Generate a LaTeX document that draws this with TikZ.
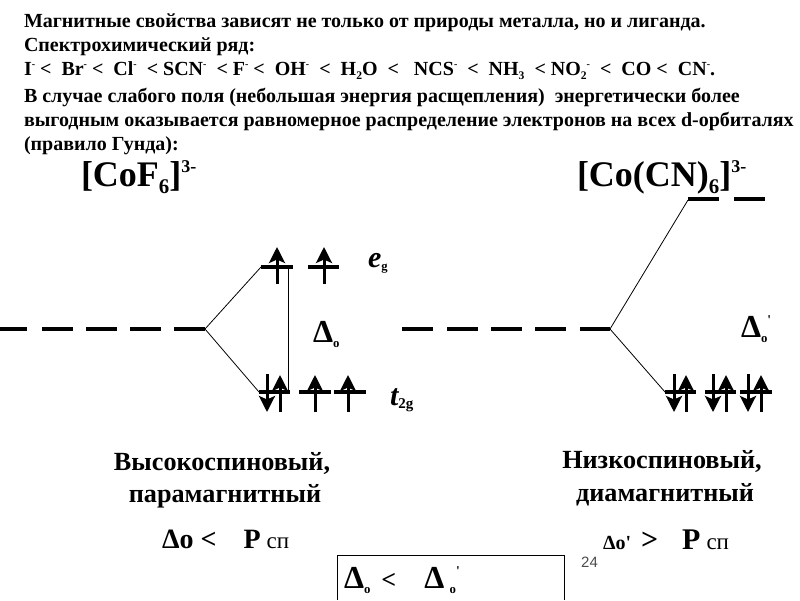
\documentclass[tikz,border=0pt]{standalone}
\usepackage{fontspec}
\setmainfont[Ligatures=TeXOff]{Liberation Serif}
\newfontfamily\numfont{Liberation Sans}
\usetikzlibrary{arrows.meta}
\newcommand{\hi}[1]{\raisebox{0.38em}{\scalebox{0.5}{#1}}}
\newcommand{\lo}[1]{\raisebox{-0.22em}{\scalebox{0.58}{#1}}}
\newcommand{\wee}[1]{\raisebox{-0.16em}{\scalebox{0.4}{#1}}}
\newcommand{\tick}{\raisebox{0.38em}{\scalebox{0.42}{'}}}
\newcommand{\sz}[1]{\fontsize{#1}{#1}\selectfont}
\tikzset{
  x=1pt,y=-1pt,
  txt/.style={anchor=base west,inner sep=0pt,outer sep=0pt,font=\bfseries\sz{20}},
  big/.style={anchor=base west,inner sep=0pt,outer sep=0pt,font=\bfseries\sz{36}},
  mid/.style={anchor=base,inner sep=0pt,outer sep=0pt,align=center,font=\bfseries\sz{26.2}},
  lab/.style={anchor=base west,inner sep=0pt,outer sep=0pt,font=\bfseries\sz{32}},
  level/.style={line width=3.4pt},
  thinl/.style={line width=0.8pt},
  elec/.style={line width=3pt,-{Stealth[length=16pt,width=16pt,inset=3.5pt]}},
}
\begin{document}
\begin{tikzpicture}
\useasboundingbox (0,0) rectangle (800,600);
\fill[white] (0,0) rectangle (800,600);
\node[txt] (l1) at (24,27) {Магнитные свойства зависят не только от природы металла, но и лиганда.};
\node[txt] (l2) at (24,51) {Спектрохимический ряд:};
\node[txt] (l3) at (24,75) {I\hi{-} <\ \ Br\hi{-} <\ \ Cl\hi{-}\ \ < SCN\hi{-}\ \ < F\hi{-} <\ \ OH\hi{-}\ \ <\ \ H\lo{2}O\ \ <\ \ \ NCS\hi{-}\ \ <\ \ NH\lo{3}\ \ < NO\lo{2}\hi{-}\ \ <\ \ CO <\ \ CN\hi{-}.};
\node[txt] (l4) at (24,102) {В случае слабого поля (небольшая энергия расщепления)\ \ энергетически более};
\node[txt] (l5) at (24,126) {выгодным оказывается равномерное распределение электронов на всех d-орбиталях};
\node[txt] (l6) at (24,150) {(правило Гунда):};
\node[big] (f1) at (81,186) {[CoF\lo{6}]\hi{3-}};
\node[big] (f2) at (577,186) {[Co(CN)\lo{6}]\hi{3-}};

\foreach \a/\b in {0/27,42/73,86/117,130/161,174/205,402/433,447/478,491/522,535/566,580/610}
  \draw[level] (\a,329) -- (\b,329);
\coordinate (c1) at (205,329);
\coordinate (c2) at (610,329);
\foreach \a/\b/\y in {261/293/267,308/339/267,259/290/392,299/331/392,334/366/392,688/719/199,734/765/199,665/696/392,705/736/392,740/772/392}
  \draw[level] (\a,\y) -- (\b,\y);
\coordinate (e1) at (261,267);
\coordinate (t1) at (259,392);
\coordinate (e2) at (688,200);
\coordinate (t2) at (665,392);
\draw[thinl] (c1) -- (e1);
\draw[thinl] (c1) -- (t1);
\draw[thinl] (c2) -- (e2);
\draw[thinl] (c2) -- (t2);
\coordinate (va) at (288,267);
\coordinate (vb) at (288,392);
\draw[thinl] (va) -- (vb);
\draw[elec] (277,284) -- (277,247);
\draw[elec] (324,284) -- (324,247);
\foreach \x in {280,315,348,686,726,761} \draw[elec] (\x,412) -- (\x,375);
\foreach \x in {267,674,713,748} \draw[elec] (\x,374) -- (\x,412);

\node[lab,font=\bfseries\itshape\sz{30}] (eg) at (368,267) {e\raisebox{-0.1em}{\scalebox{0.42}{\upshape g}}};
\node[lab,font=\bfseries\itshape\sz{30}] (tg) at (390,405) {t\raisebox{-0.1em}{\scalebox{0.5}{\upshape 2g}}};
\node[lab] (d1) at (313,342) {Δ\wee{o}};
\node[lab] (d2) at (741,337) {Δ\wee{o}\tick};

\node[mid] (h1) at (222,470) {Высокоспиновый,};
\node[mid] (h2) at (225,502) {парамагнитный};
\node[mid] (n1) at (662,468) {Низкоспиновый,};
\node[mid] (n2) at (665,501) {диамагнитный};
\node[lab,font=\bfseries\sz{28}] (r1) at (162,548) {Δo <\hspace{27pt}P\hspace{6pt}{\mdseries\sz{23}сп}};
\node[lab,font=\bfseries\sz{30}] (r2) at (603,549) {{\sz{20}Δo'}\hspace{10pt}>\hspace{24pt}P\hspace{6pt}{\mdseries\sz{23}сп}};
\node[anchor=base west,inner sep=0pt,font=\numfont\sz{15},text=black!70] (p) at (581,567) {24};
\coordinate (b1) at (337,600);
\coordinate (b2) at (337,555);
\coordinate (b3) at (564,555);
\coordinate (b4) at (564,600);
\draw[line width=0.9pt] (b1) -- (b2) -- (b3) -- (b4);
\node[lab] (cmp) at (344,588) {Δ\wee{o}\hspace{11pt}{\sz{26}<}\hspace{28pt}Δ\,\wee{o}\tick};
\end{tikzpicture}
\end{document}
